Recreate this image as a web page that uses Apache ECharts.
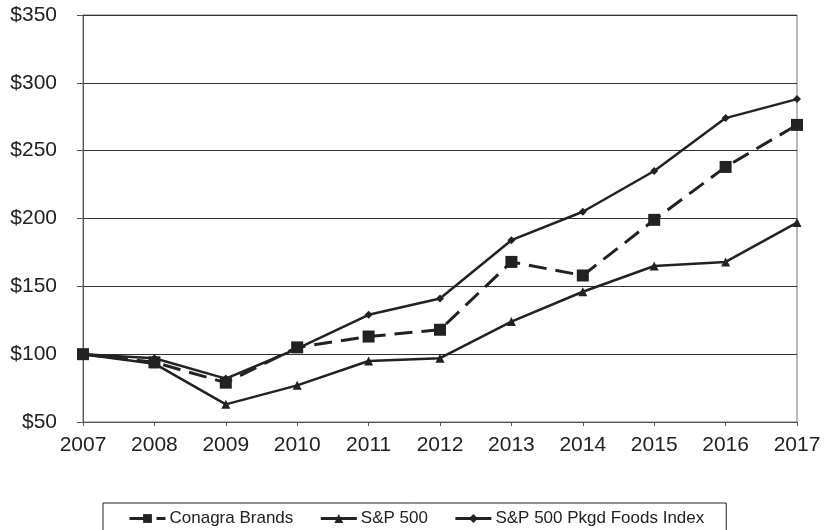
<!DOCTYPE html>
<html>
<head>
<meta charset="utf-8">
<script src="https://cdn.jsdelivr.net/npm/echarts@6/dist/echarts.min.js"></script>
<style>
html,body{margin:0;padding:0;background:#fff;}
#chart{width:825px;height:530px;}
</style>
</head>
<body>
<div id="chart"></div>
<script>
var years = ['2007','2008','2009','2010','2011','2012','2013','2014','2015','2016','2017'];
var conagra = [100, 94, 79, 105, 113, 118, 168, 158, 199, 238, 269];
var sp500 = [100, 93, 63, 77, 95, 97, 124, 146, 165, 168, 197];
var pkgdFoods = [100, 97, 82, 104, 129, 141, 184, 205, 235, 274, 288];
var seriesNames = ['Conagra Brands', 'S&P 500', 'S&P 500 Pkgd Foods Index'];

var FONT = '"Liberation Sans", Arial, sans-serif';
var INK = '#222';
var chart = echarts.init(document.getElementById('chart'), null, {renderer: 'canvas'});
chart.setOption({
  animation: false,
  backgroundColor: '#fff',
  grid: {left: 83, right: 28, top: 15, bottom: 108, show: true, borderColor: '#777', borderWidth: 1, backgroundColor: 'transparent'},
  legend: {
    left: 103, top: 503,
    padding: [7, 22, 20, 25],
    borderColor: '#222', borderWidth: 1,
    itemWidth: 36, itemHeight: 11, itemGap: 26,
    lineStyle: {width: 3},
    textStyle: {fontFamily: FONT, fontSize: 17, color: INK, padding: [0, 0, 0, -1]},
    data: seriesNames
  },
  xAxis: {
    type: 'category', data: years, boundaryGap: false,
    axisLine: {lineStyle: {color: '#555', width: 1}},
    axisTick: {show: true, length: 4, alignWithLabel: true, lineStyle: {color: '#555'}},
    axisLabel: {fontFamily: FONT, fontSize: 21, color: INK, margin: 13},
    splitLine: {show: false}
  },
  yAxis: {
    type: 'value', min: 50, max: 350, interval: 50,
    axisLine: {show: true, lineStyle: {color: '#555', width: 1}},
    axisTick: {show: true, length: 6, lineStyle: {color: '#555'}},
    axisLabel: {fontFamily: FONT, fontSize: 21, color: INK, margin: 26, formatter: '${value}'},
    splitLine: {show: true, lineStyle: {color: '#333', width: 1}}
  },
  series: [
    {
      name: seriesNames[2], type: 'line', data: pkgdFoods,
      symbol: 'diamond', symbolSize: 8, z: 3,
      lineStyle: {color: INK, width: 2.5}, itemStyle: {color: INK}
    },
    {
      name: seriesNames[1], type: 'line', data: sp500,
      symbol: 'triangle', symbolSize: 9, z: 3,
      lineStyle: {color: INK, width: 2.5}, itemStyle: {color: INK}
    },
    {
      name: seriesNames[0], type: 'line', data: conagra,
      symbol: 'rect', symbolSize: 12, z: 4,
      lineStyle: {color: INK, width: 3, type: [18, 9]}, itemStyle: {color: INK}
    }
  ]
});
</script>
</body>
</html>
